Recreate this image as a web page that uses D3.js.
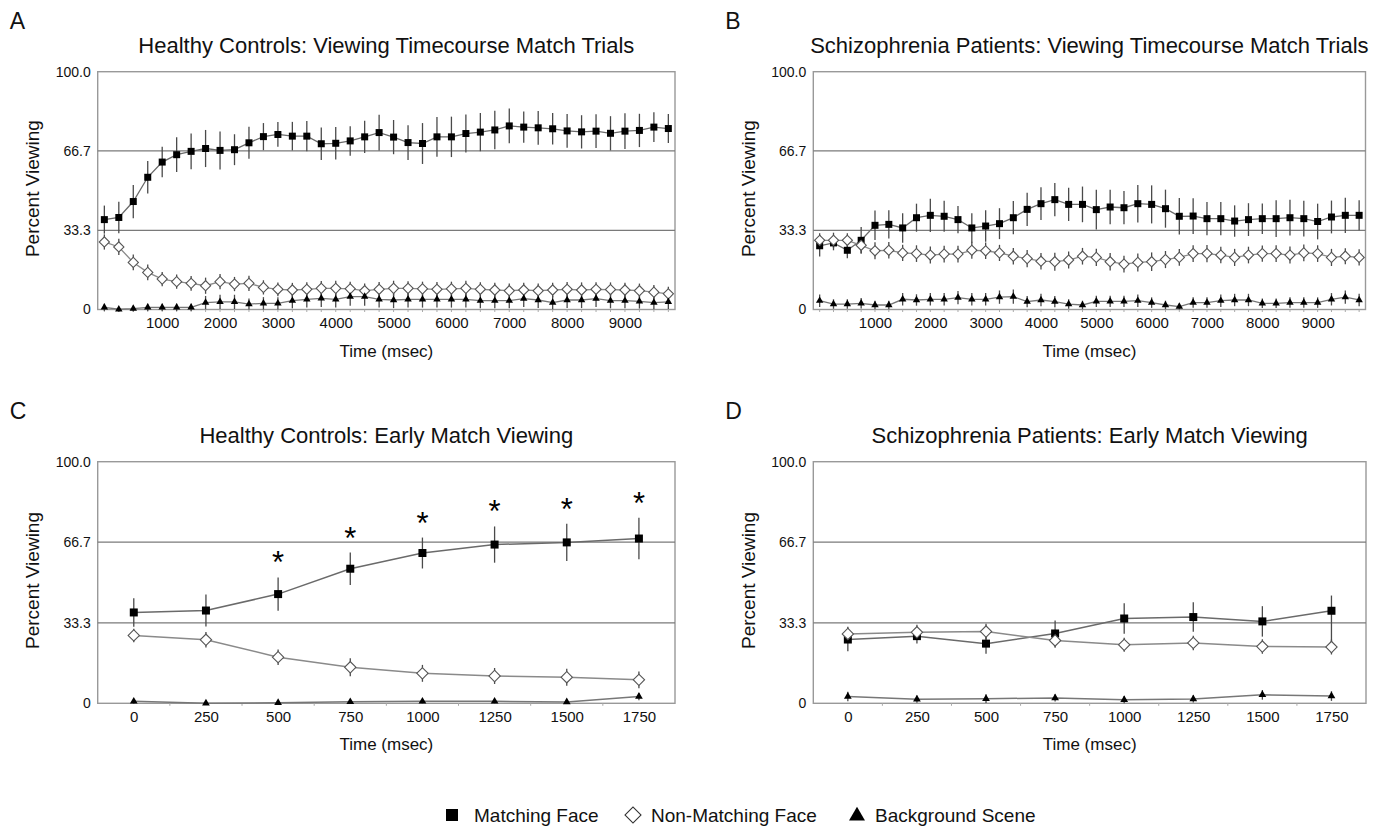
<!DOCTYPE html>
<html>
<head>
<meta charset="utf-8">
<script src="https://cdn.jsdelivr.net/npm/d3@7"></script>
<style>
  html, body { margin: 0; padding: 0; background: #fff; }
  svg { display: block; font-family: "Liberation Sans", Arial, Helvetica, sans-serif; }
</style>
</head>
<body>
<svg id="chart" width="1388" height="828"></svg>
<script>
// ---------------- DATA ----------------
const timeLong = [0,250,500,750,1000,1250,1500,1750,2000,2250,2500,2750,3000,3250,3500,3750,4000,4250,4500,4750,
                  5000,5250,5500,5750,6000,6250,6500,6750,7000,7250,7500,7750,8000,8250,8500,8750,9000,9250,9500,9750];
const timeLongTicks = [1000,2000,3000,4000,5000,6000,7000,8000,9000];
const timeShort = ["0","250","500","750","1000","1250","1500","1750"];
const yTickValues = [0, 33.3, 66.7, 100];
const yTickLabels = ["0", "33.3", "66.7", "100.0"];
const seriesNames = ["Matching Face", "Non-Matching Face", "Background Scene"];

// Panel A: Healthy controls, timecourse
const aMatch    = [37.8,38.7,45.4,55.6,62.0,65.1,66.5,67.7,66.9,67.2,70.1,72.7,73.6,72.9,72.9,69.7,69.9,70.9,72.6,74.4,
                   72.5,70.2,69.8,72.6,72.6,74.0,74.6,75.5,77.2,76.7,76.4,76.0,75.1,74.7,75.0,74.1,75.0,75.3,76.7,76.1];
const aMatchErr = [5.9,6.6,7.0,6.8,6.4,7.3,7.5,7.8,8.0,6.5,6.7,5.7,5.2,6.0,6.4,6.8,6.8,6.2,6.8,7.5,
                   7.2,7.3,8.6,8.4,8.5,8.0,8.0,8.1,7.3,6.6,7.1,6.6,7.1,7.0,7.1,7.2,7.5,7.0,6.3,6.1];
const aNon      = [28.4,26.3,19.8,15.6,12.8,11.7,11.0,10.0,11.7,10.7,11.0,9.3,8.5,8.2,8.5,8.9,8.9,8.7,7.9,8.5,
                   8.9,8.9,8.7,8.5,8.7,8.9,8.5,8.2,7.9,8.2,7.9,8.2,8.5,8.2,8.5,8.4,8.2,7.9,7.3,6.6];
const aNonErr   = [3.2,3.4,3.3,3.3,3.0,3.0,3.1,3.4,3.2,3.0,3.2,3.0,2.9,3.0,3.0,3.1,3.2,3.0,3.0,3.1,
                   3.2,3.0,3.0,3.1,3.0,3.2,3.0,3.0,3.0,3.1,3.0,3.0,3.1,3.2,3.0,3.0,3.1,3.0,3.0,3.0];
const aBg       = [0.9,0.1,0.4,0.9,0.9,0.9,0.9,2.9,3.2,3.2,2.3,2.6,2.6,3.7,4.3,4.7,4.3,5.4,5.4,4.3,
                   4.0,4.3,4.3,4.3,4.3,4.3,3.7,3.7,3.7,4.6,4.0,2.9,4.0,4.0,4.6,3.7,3.7,3.4,2.9,3.2];
const aBgErr    = [1.5,1.0,1.2,1.5,1.5,1.5,1.5,2.8,3.0,3.0,2.3,2.6,2.6,3.2,3.5,3.6,3.5,3.8,3.8,3.5,
                   3.4,3.5,3.5,3.5,3.5,3.5,3.2,3.2,3.2,3.5,3.4,2.8,3.4,3.4,3.5,3.2,3.2,3.0,2.8,3.0];

// Panel B: Schizophrenia patients, timecourse
const bMatch    = [26.8,28.0,24.9,29.1,35.4,35.8,34.3,38.6,39.6,39.2,37.8,34.3,35.1,36.1,38.6,42.1,44.5,46.2,44.2,44.2,
                   42.0,43.1,42.8,44.5,44.2,42.4,39.2,39.3,38.2,38.2,37.2,37.8,38.2,38.2,38.6,38.2,37.0,38.9,39.6,39.6];
const bMatchErr = [4.5,3.1,3.4,5.6,6.2,5.9,6.2,5.9,7.0,6.5,5.7,6.2,6.6,6.5,7.0,7.0,6.9,7.0,7.0,7.5,
                   8.4,7.3,7.0,7.9,8.0,8.0,7.7,7.5,7.0,7.0,6.6,6.9,6.4,7.7,7.5,7.5,7.5,6.9,7.4,6.3];
const bNon      = [29.1,29.1,29.1,27.0,24.7,24.9,23.8,23.5,22.9,23.3,23.3,24.9,24.7,23.8,22.4,21.4,20.3,20.1,20.8,22.4,
                   21.9,20.1,19.1,19.8,20.1,21.0,21.9,23.5,23.5,22.9,21.9,22.9,23.5,23.5,22.9,23.8,23.5,21.9,22.4,21.9];
const bNonErr   = [3.0,3.2,3.0,3.4,3.6,3.5,3.4,3.5,3.6,3.5,3.5,3.6,3.5,3.4,3.5,3.6,3.5,3.8,3.6,3.5,
                   3.6,3.7,3.5,3.8,3.9,3.6,3.5,3.5,3.6,3.5,3.6,3.5,3.4,3.5,3.6,3.5,3.5,3.6,3.4,3.4];
const bBg       = [3.7,2.3,2.3,2.6,1.9,1.9,4.3,4.0,4.3,4.3,5.0,4.3,4.3,5.2,5.4,3.3,4.0,3.3,2.3,1.9,
                   3.4,3.4,3.4,3.7,2.9,1.9,1.2,2.9,2.9,3.7,4.0,4.0,2.6,2.6,2.9,2.9,2.9,4.3,5.2,4.0];
const bBgErr    = [2.6,2.0,2.0,2.2,1.8,1.8,2.6,2.4,2.6,2.6,2.8,2.6,2.6,2.8,3.0,2.4,2.6,2.4,2.0,1.8,
                   2.4,2.4,2.4,2.6,2.2,1.8,1.2,2.2,2.2,2.6,2.6,2.6,2.0,2.0,2.2,2.2,2.2,2.6,2.8,2.6];

// Panel C: Healthy controls, early match
const cMatch    = [37.6,38.4,45.2,55.7,62.2,65.7,66.6,68.2];
const cMatchErr = [5.9,6.6,6.9,6.7,6.4,7.5,7.7,8.6];
const cNon      = [28.1,26.3,19.1,14.9,12.4,11.3,10.8,9.7];
const cNonErr   = [2.8,3.2,3.2,3.7,3.5,3.3,3.5,3.5];
const cBg       = [0.8,0.0,0.2,0.6,0.8,0.8,0.5,2.8];
const cBgErr    = [1.0,0.5,0.5,0.8,0.8,0.8,0.6,1.5];
const cSignificant = [false,false,true,true,true,true,true,true];

// Panel D: Schizophrenia patients, early match
const dMatch       = [26.4,27.8,24.7,28.9,35.1,35.7,33.9,38.3];
const dMatchErr    = [4.9,3.1,4.2,5.4,6.3,6.1,6.3,6.3];
const dMatchErrLow = [4.9,3.1,4.2,5.4,6.3,6.1,6.3,17.5];
const dNon         = [28.7,29.4,29.7,26.0,24.2,25.0,23.5,23.3];
const dNonErr      = [3.0,3.1,3.2,3.0,2.9,3.0,3.0,3.1];
const dBg          = [2.8,1.7,1.9,2.2,1.5,1.8,3.5,3.0];
const dBgErr       = [2.0,1.5,1.8,1.5,1.5,1.5,2.0,2.0];

// ---------------- DRAWING ----------------
const svg = d3.select("#chart");
const FONT_TEXT = "#111";

const panels = [
  { letter: "A", title: "Healthy Controls: Viewing Timecourse Match Trials", kind: "long",
    box: {x0: 97.7, x1: 675, y0: 71.7, y1: 309.5},
    series: [ {v: aMatch, e: aMatchErr}, {v: aNon, e: aNonErr}, {v: aBg, e: aBgErr} ] },
  { letter: "B", title: "Schizophrenia Patients: Viewing Timecourse Match Trials", kind: "long",
    box: {x0: 813.3, x1: 1365.5, y0: 71.7, y1: 309.5},
    series: [ {v: bMatch, e: bMatchErr}, {v: bNon, e: bNonErr}, {v: bBg, e: bBgErr} ] },
  { letter: "C", title: "Healthy Controls: Early Match Viewing", kind: "short",
    box: {x0: 97.7, x1: 675, y0: 461.7, y1: 703.3}, sig: cSignificant,
    series: [ {v: cMatch, e: cMatchErr}, {v: cNon, e: cNonErr}, {v: cBg, e: cBgErr} ] },
  { letter: "D", title: "Schizophrenia Patients: Early Match Viewing", kind: "short",
    box: {x0: 813.3, x1: 1366, y0: 461.7, y1: 703.3},
    series: [ {v: dMatch, e: dMatchErr, eLo: dMatchErrLow}, {v: dNon, e: dNonErr}, {v: dBg, e: dBgErr} ] }
];

function markerPath(seriesIdx, big) {
  if (seriesIdx === 0) return d3.symbol().type(d3.symbolSquare).size(big ? 64 : 49)();
  if (seriesIdx === 1) return d3.symbol().type(d3.symbolSquare).size(big ? 64 : 52)();
  return d3.symbol().type(d3.symbolTriangle).size(big ? 26 : 24)();
}

panels.forEach(p => {
  const b = p.box;
  const g = svg.append("g");
  const y = d3.scaleLinear().domain([0, 100]).range([b.y1, b.y0]);
  let x, xs;
  if (p.kind === "long") {
    x = d3.scaleLinear().domain([-115, 9865]).range([b.x0, b.x1]);
    xs = timeLong;
  } else {
    x = d3.scalePoint().domain(timeShort).range([b.x0, b.x1]).padding(0.5);
    xs = timeShort;
  }

  // frame
  g.append("rect").attr("x", b.x0).attr("y", b.y0)
    .attr("width", b.x1 - b.x0).attr("height", b.y1 - b.y0)
    .attr("fill", "none").attr("stroke", "#999").attr("stroke-width", 1.4);

  // reference lines at 33.3 and 66.7
  g.selectAll("line.ref").data([33.3, 66.7]).enter().append("line")
    .attr("x1", b.x0).attr("x2", b.x1)
    .attr("y1", d => y(d)).attr("y2", d => y(d))
    .attr("stroke", "#7a7a7a").attr("stroke-width", 1.3);

  // minor ticks on bottom edge
  let minor;
  if (p.kind === "long") minor = timeLong.map(t => x(t));
  else {
    const st = x.step();
    minor = timeShort.slice(0, -1).map(t => x(t) + st / 2);
  }
  g.selectAll("line.minor").data(minor).enter().append("line")
    .attr("x1", d => d).attr("x2", d => d)
    .attr("y1", b.y1).attr("y2", b.y1 + 2.5)
    .attr("stroke", "#aaa").attr("stroke-width", 1);

  // y axis labels
  const yAxis = d3.axisLeft(y).tickValues(yTickValues).tickSize(0).tickPadding(7)
    .tickFormat((d, i) => yTickLabels[i]);
  const ya = g.append("g").attr("transform", `translate(${b.x0},0)`).call(yAxis);
  ya.select(".domain").remove();
  ya.selectAll("text").attr("font-size", 14).attr("fill", FONT_TEXT)
    .attr("font-family", "Liberation Sans, Arial, sans-serif");

  // x axis labels
  let xAxis;
  if (p.kind === "long") xAxis = d3.axisBottom(x).tickValues(timeLongTicks).tickSize(0).tickPadding(8).tickFormat(d3.format("d"));
  else xAxis = d3.axisBottom(x).tickSize(0).tickPadding(8);
  const xa = g.append("g").attr("transform", `translate(0,${b.y1})`).call(xAxis);
  xa.select(".domain").remove();
  xa.selectAll("text").attr("font-size", 15).attr("fill", FONT_TEXT)
    .attr("font-family", "Liberation Sans, Arial, sans-serif");

  const cx = (b.x0 + b.x1) / 2, cy = (b.y0 + b.y1) / 2;
  // axis titles
  g.append("text").attr("x", cx).attr("y", b.y1 + 47).attr("text-anchor", "middle")
    .attr("font-size", 17).attr("fill", FONT_TEXT).text("Time (msec)");
  g.append("text").attr("transform", `translate(${b.x0 - 65},${cy - 2}) rotate(-90)`)
    .attr("text-anchor", "middle").attr("dominant-baseline", "central")
    .attr("font-size", 19).attr("fill", FONT_TEXT).text("Percent Viewing");
  // panel title & letter
  g.append("text").attr("x", cx).attr("y", b.y0 - 19).attr("text-anchor", "middle")
    .attr("font-size", 22).attr("fill", FONT_TEXT).text(p.title);
  g.append("text").attr("x", b.x0 - 88).attr("y", b.y0 - 43)
    .attr("font-size", 23).attr("fill", FONT_TEXT).text(p.letter);

  const big = p.kind === "short";
  const lineColors = ["#6a6a6a", "#8a8a8a", "#777"];
  // lines
  p.series.forEach((s, si) => {
    const pts = s.v.map((v, i) => [x(xs[i]), y(v)]);
    g.append("path").attr("d", d3.line()(pts)).attr("fill", "none")
      .attr("stroke", lineColors[si]).attr("stroke-width", big ? 1.5 : 1.3);
  });
  // error bars
  p.series.forEach((s, si) => {
    g.selectAll(null).data(s.v).enter().append("line")
      .attr("x1", (v, i) => x(xs[i])).attr("x2", (v, i) => x(xs[i]))
      .attr("y1", (v, i) => y(v + s.e[i]))
      .attr("y2", (v, i) => y(Math.max(v - (s.eLo ? s.eLo[i] : s.e[i]), -1)))
      .attr("stroke", "#4a4a4a").attr("stroke-width", 1.3);
  });
  // markers
  p.series.forEach((s, si) => {
    const path = markerPath(si, big);
    g.selectAll(null).data(s.v).enter().append("path")
      .attr("d", path)
      .attr("transform", (v, i) => `translate(${x(xs[i])},${y(v)})${si === 1 ? " rotate(45)" : ""}`)
      .attr("fill", si === 1 ? "#fff" : "#000")
      .attr("stroke", si === 1 ? "#555" : "none")
      .attr("stroke-width", 1.1);
  });
  // significance asterisks
  if (p.sig) {
    const m = p.series[0];
    p.sig.forEach((flag, i) => {
      if (!flag) return;
      g.append("text").attr("x", x(xs[i])).attr("y", y(m.v[i] + m.e[i]) - 4)
        .attr("text-anchor", "middle").attr("font-size", 31).attr("fill", "#000")
        .text("*");
    });
  }
});

// ---------------- LEGEND ----------------
const legend = svg.append("g");
const legendItems = [
  { name: seriesNames[0], mx: 452, tx: 474, type: 0 },
  { name: seriesNames[1], mx: 633, tx: 651, type: 1 },
  { name: seriesNames[2], mx: 857, tx: 875, type: 2 }
];
const ly = 815;
legendItems.forEach(it => {
  let d, tr = `translate(${it.mx},${ly})`, fill = "#000", stroke = "none";
  if (it.type === 0) d = d3.symbol().type(d3.symbolSquare).size(144)();
  else if (it.type === 1) { d = d3.symbol().type(d3.symbolSquare).size(128)(); tr += " rotate(45)"; fill = "#fff"; stroke = "#333"; }
  else { d = d3.symbol().type(d3.symbolTriangle).size(110)(); tr = `translate(${it.mx},${ly + 1})`; }
  legend.append("path").attr("d", d).attr("transform", tr).attr("fill", fill)
    .attr("stroke", stroke).attr("stroke-width", 1.1);
  legend.append("text").attr("x", it.tx).attr("y", ly).attr("dominant-baseline", "central")
    .attr("font-size", 19).attr("fill", FONT_TEXT).text(it.name);
});
</script>
</body>
</html>
